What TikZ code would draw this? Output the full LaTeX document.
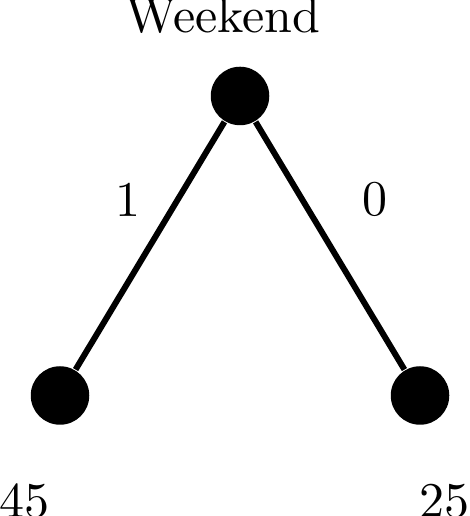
\documentclass[tikz,border=0pt]{standalone}
\usepackage{tikz}
\usetikzlibrary{positioning}
\tikzset{
  dot-style/.style = {
    circle, fill=black, inner sep=0pt,
    minimum size=11.7pt
  },
  value-style/.style = {
    inner sep=0pt
  },
  bit-style/.style = {
    inner sep=0pt, pos=0.313
  },
  every edge/.style = {draw, line width=1.2pt}
}

\begin{document}
\begin{tikzpicture}
    \useasboundingbox (0,0) rectangle (93.8pt,103.2pt);

    %%% split node
    \node[dot-style] (root) at (48pt,84pt) {};
    \node[value-style,above=6.3pt of root,xshift=-3.4pt] (rootLabel) {Weekend};

    %%% leaves
    \node[dot-style,on grid,below left=59.9pt and 36pt of root] (leafL) {};
    \node[dot-style,on grid,below right=59.9pt and 36pt of root] (leafR) {};
    \node[value-style,below=11.4pt of leafL,xshift=-7.1pt] (valL) {45};
    \node[value-style,below=11.4pt of leafR,xshift=4.9pt] (valR) {25};

    %%% branches
    \path (root) edge node[bit-style,left=6.8pt] (bitL) {1} (leafL);
    \path (root) edge node[bit-style,right=11.5pt] (bitR) {0} (leafR);
\end{tikzpicture}
\end{document}
